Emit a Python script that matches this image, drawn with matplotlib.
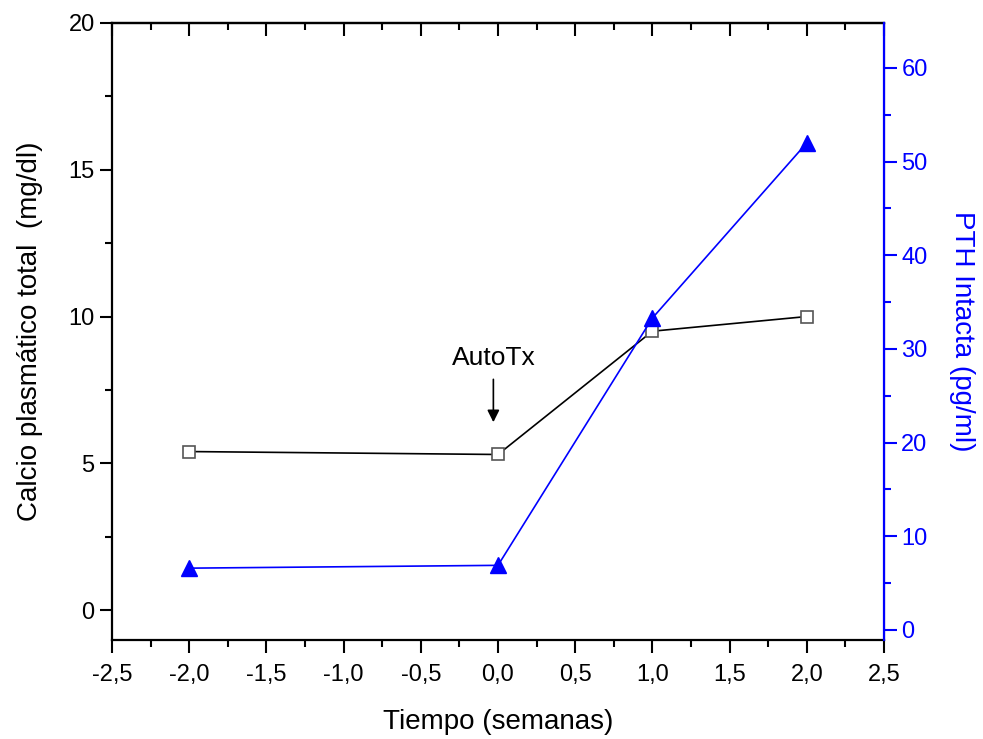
import matplotlib
matplotlib.use('Agg')
from matplotlib import pyplot as plt
from matplotlib.ticker import MultipleLocator, FuncFormatter

plt.rcParams['font.family'] = ['Liberation Sans', 'DejaVu Sans']

semanas = [-2.0, 0.0, 1.0, 2.0]
calcio = [5.4, 5.3, 9.5, 10.0]
pth = [6.6, 6.9, 33.3, 52.0]

blue = '#0000ff'

fig = plt.figure(figsize=(9.83, 7.39), dpi=100)
ax = fig.add_axes([112 / 983, 1 - 640 / 739, 772 / 983, 617 / 739])
ax2 = ax.twinx()

ax.plot(semanas, calcio, color='black', lw=1.2, marker='s', ms=9,
        mfc='white', mec='#555555', mew=1.2, zorder=3)
ax2.plot(semanas, pth, color=blue, lw=1.2, marker='^', ms=12,
         mfc=blue, mec=blue, zorder=3)

ax.set_xlim(-2.5, 2.5)
ax.set_ylim(-1.02, 20)
ax2.set_ylim(-1.07, 64.8)

comma = FuncFormatter(lambda v, p: f'{v:.1f}'.replace('.', ','))
ax.xaxis.set_major_locator(MultipleLocator(0.5))
ax.xaxis.set_minor_locator(MultipleLocator(0.25))
ax.xaxis.set_major_formatter(comma)
ax.yaxis.set_major_locator(MultipleLocator(5))
ax.yaxis.set_minor_locator(MultipleLocator(2.5))
ax2.yaxis.set_major_locator(MultipleLocator(10))
ax2.yaxis.set_minor_locator(MultipleLocator(5))

ax.tick_params(axis='x', which='both', direction='out',
               labelsize=17, pad=8, width=1.5)
ax.tick_params(axis='x', which='major', length=9)
ax.tick_params(axis='x', which='minor', length=5)
ax.tick_params(axis='y', which='both', direction='out', labelsize=17, width=1.5)
ax.tick_params(axis='y', which='major', length=9)
ax.tick_params(axis='y', which='minor', length=5)
ax2.tick_params(axis='y', which='both', direction='out', colors=blue,
                labelsize=17, width=1.5)
ax2.tick_params(axis='y', which='major', length=9)
ax2.tick_params(axis='y', which='minor', length=5)

# top axis: inward ticks, no labels
top = ax.secondary_xaxis('top')
top.xaxis.set_major_locator(MultipleLocator(0.5))
top.xaxis.set_minor_locator(MultipleLocator(0.25))
top.tick_params(axis='x', which='both', direction='in', labeltop=False, width=1.5)
top.tick_params(axis='x', which='major', length=9)
top.tick_params(axis='x', which='minor', length=5)
top.spines['top'].set_linewidth(1.6)

for s in ['left', 'bottom', 'top']:
    ax.spines[s].set_linewidth(1.6)
ax2.spines['right'].set_color(blue)
ax2.spines['right'].set_linewidth(1.6)
ax2.spines['left'].set_visible(False)
ax2.spines['top'].set_visible(False)
ax2.spines['bottom'].set_visible(False)

ax.set_xlabel('Tiempo (semanas)', fontsize=20, labelpad=17)
ax.set_ylabel('Calcio plasmático total  (mg/dl)', fontsize=20, labelpad=18)
ax2.set_ylabel('PTH Intacta (pg/ml)', fontsize=20, color=blue,
               rotation=270, labelpad=34)

ax.annotate('AutoTx', xy=(-0.03, 6.4), xytext=(-0.03, 8.6),
            ha='center', va='center', fontsize=19,
            arrowprops=dict(arrowstyle='-|>', color='black', lw=1.2,
                            shrinkA=5, shrinkB=0, mutation_scale=18))

fig.savefig('out.png', dpi=100)
